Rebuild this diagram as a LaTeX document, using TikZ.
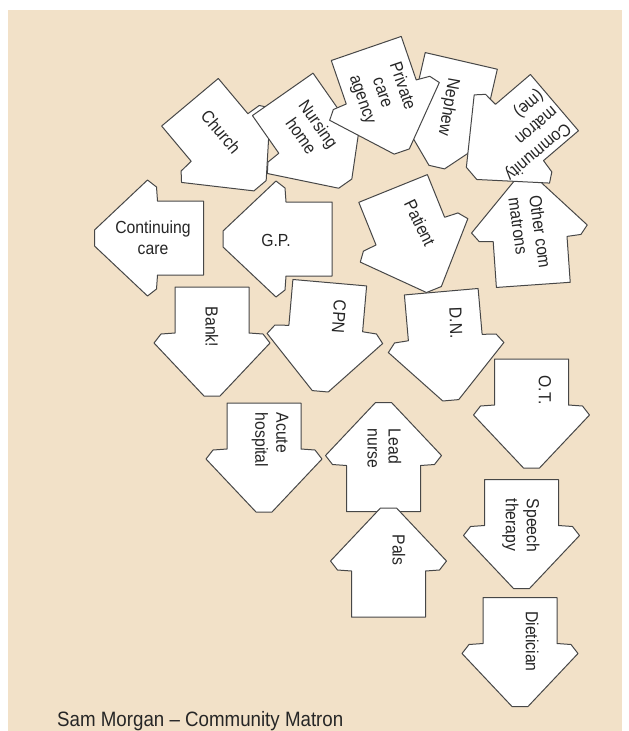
\documentclass[tikz,border=0pt]{standalone}
\usepackage{fontspec}
\setmainfont{Liberation Sans}[FakeStretch=0.9]
\definecolor{paper}{RGB}{242,225,200}
\definecolor{ink}{RGB}{38,38,38}

\begin{document}
\begin{tikzpicture}[x=1pt, y=-1pt,
  every node/.style={font=\fontsize{17.5}{21}\selectfont, text=ink, inner sep=0pt},
  cardline/.style={fill=white, draw=black!72, line width=1pt, line join=round},
  card/.pic={
    \draw[cardline] (-54.5,-37) -- (-8.5,-37) -- (-7.5,-51) -- (1.5,-58) -- (54.5,-8)
      -- (54.5,8) -- (1.5,58) -- (-7.5,51) -- (-8.5,37) -- (-54.5,37) -- cycle;
  }]
\useasboundingbox (0,0) rectangle (629,731);

% Paper background
\fill[white] (0,0) rectangle (629,731);
\fill[paper] (8,10) rectangle (622,731);

% Top row, cards lying over one another
\pic[rotate=-50] at (225,144) {card};
\node[rotate=-50] (church) at (221,132) {Church};
\pic[rotate=-55] at (314,139) {card};
\node[rotate=-55, align=center] (nursing) at (310,130) {Nursing\\home};
\pic[rotate=-103] at (449,114) {card};
\node[rotate=-100] (nephew) at (448,107) {Nephew};
\pic[rotate=-71] at (384,100) {card};
\node[rotate=-71, align=center] (agency) at (382,93) {Private\\care\\agency};
\pic[rotate=94] at (529.5,230.5) {card};
\node[rotate=-82, align=left] (matrons) at (530,233) {Other com\\matrons};
\pic[rotate=-139.5] at (513,138) {card};
\node[rotate=-140, align=left] (me) at (524,135) {Community\\matron\\(me)};

% Left-pointing cards
\pic[rotate=180] at (149,238) {card};
\node[align=center] (continuing) at (153,238) {Continuing\\care};
\pic[rotate=180] at (277.5,239) {card};
\node (gp) at (276,240) {G.P.};

% Patient
\pic[rotate=-68] at (413.5,239) {card};
\node[rotate=-64] (patient) at (420,223) {Patient};

% Down-pointing cards
\pic[rotate=-90] at (212,341.5) {card};
\node[rotate=-90] (bank) at (212,327) {Bank!};
\pic[rotate=-95] at (325,337) {card};
\node[rotate=-94] (cpn) at (339,317) {CPN};
\pic[rotate=-85] at (446,346) {card};
\node[rotate=-88] (dn) at (456,323) {D.N.};
\pic[rotate=-90] at (531.5,413.5) {card};
\node[rotate=-90] (ot) at (545,390) {O.T.};
\pic[rotate=-90] at (264,457.5) {card};
\node[rotate=-90, align=left] (acute) at (270,440) {Acute\\hospital};
\pic[rotate=-90] at (521.5,534) {card};
\node[rotate=-90, align=left] (speech) at (521,525.5) {Speech\\therapy};
\pic[rotate=-90] at (520,652) {card};
\node[rotate=-90] (dietician) at (532,641.5) {Dietician};

% Up-pointing cards
\pic[rotate=90] at (383.5,457) {card};
\node[rotate=-90, align=left] (lead) at (384.5,448.5) {Lead\\nurse};
\pic[rotate=90] at (388.5,562.5) {card};
\node[rotate=-90] (pals) at (399,550) {Pals};

% Caption
\node[anchor=base west, font=\fontsize{20.8}{25}\selectfont] (caption) at (57,726) {Sam Morgan – Community Matron};

\end{tikzpicture}
\end{document}
